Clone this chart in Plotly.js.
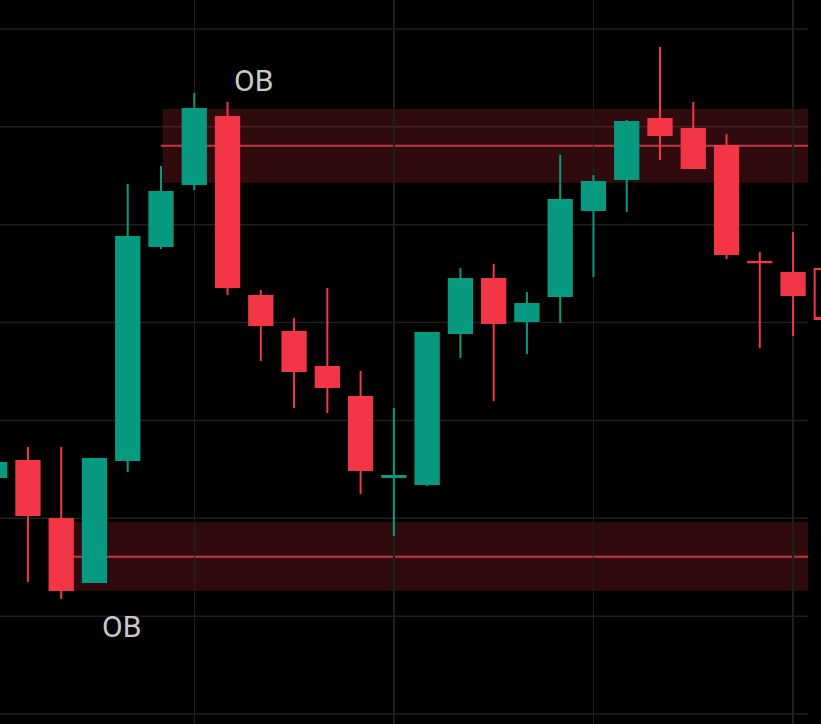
<!DOCTYPE html>
<html>
<head>
<meta charset="utf-8">
<script src="https://cdn.plot.ly/plotly-3.0.1.min.js"></script>
<style>html,body{margin:0;padding:0;background:#000;}#chart{width:821px;height:724px;}</style>
</head>
<body>
<div id="chart"></div>
<script>
// Candle index (bar number) and OHLC values
const barIndex = [0,1,2,3,4,5,6,7,8,9,10,11,12,13,14,15,16,17,18,19,20,21,22,23,24];
const openVals  = [124.22,125.85,119.93,113.49,125.96,147.82,154.16,161.01,142.72,139.04,135.46,132.39,124.22,123.50,138.93,144.45,140.16,142.72,151.50,154.67,160.80,159.78,158.04,146.19,145.07];
const highVals  = [125.65,127.28,127.28,126.06,154.16,156.00,163.46,162.54,143.33,140.47,143.53,135.05,131.27,139.04,145.58,145.99,143.12,157.12,155.08,160.70,168.16,162.54,159.27,147.21,149.26];
const lowVals   = [124.22,113.49,111.75,113.49,124.73,147.52,153.55,142.82,136.07,131.27,130.76,122.48,118.19,123.30,136.38,131.99,136.79,139.96,144.66,151.30,156.61,155.69,146.50,137.40,138.63];
const closeVals = [125.65,120.34,112.67,126.06,148.74,153.34,161.82,143.64,139.75,135.05,133.42,124.93,124.32,138.93,144.45,139.96,141.90,152.53,154.37,160.50,159.17,155.80,147.01,146.15,142.82];

// Current (unfinished, hollow) candle
const liveIndex = [25];
const liveOpen = [145.48];
const liveHigh = [145.48];
const liveLow = [140.37];
const liveClose = [140.37];

// Order-block zones: start bar, end bar, top, bottom, mid line
const obStart = [5, 2];
const obEnd = [24.45, 24.45];
const obTop = [161.82, 119.62];
const obBottom = [154.29, 112.60];
const obMid = [158.07, 116.07];

// OB labels
const obLabelX = [7.79, 3.80];
const obLabelY = [164.69, 108.99];
const obLabelText = ['OB', 'OB'];

// Horizontal price grid levels
const priceGrid = [100, 110, 120, 130, 140, 150, 160, 170];

const GREEN = '#089981';
const RED = '#f23645';
const rightEdge = 808 / 821;

const traces = [
  {
    type: 'candlestick',
    x: barIndex, open: openVals, high: highVals, low: lowVals, close: closeVals,
    increasing: {line: {color: GREEN, width: 2}, fillcolor: GREEN},
    decreasing: {line: {color: RED, width: 2}, fillcolor: RED},
    whiskerwidth: 0,
    hoverinfo: 'skip',
    showlegend: false
  },
  {
    type: 'candlestick',
    x: liveIndex, open: liveOpen, high: liveHigh, low: liveLow, close: liveClose,
    increasing: {line: {color: RED, width: 2}, fillcolor: '#000000'},
    decreasing: {line: {color: RED, width: 2}, fillcolor: '#000000'},
    whiskerwidth: 0,
    hoverinfo: 'skip',
    showlegend: false
  }
];

const shapes = [];
priceGrid.forEach(v => shapes.push({
  type: 'line', layer: 'below', xref: 'paper', yref: 'y',
  x0: 0, x1: rightEdge, y0: v, y1: v,
  line: {color: '#1f1f1f', width: 1.5}
}));
obStart.forEach((s, i) => {
  shapes.push({
    type: 'rect', layer: 'below', xref: 'x', yref: 'y',
    x0: s + 0.05, x1: obEnd[i], y0: obBottom[i], y1: obTop[i],
    fillcolor: 'rgba(242,54,69,0.2)', line: {width: 0}
  });
  shapes.push({
    type: 'line', layer: 'below', xref: 'x', yref: 'y',
    x0: s, x1: obEnd[i], y0: obMid[i], y1: obMid[i],
    line: {color: '#c03843', width: 2}
  });
});

const annotations = obLabelText.map((t, i) => ({
  x: obLabelX[i], y: obLabelY[i], xref: 'x', yref: 'y',
  text: t, showarrow: false,
  font: {family: 'Roboto, sans-serif', size: 30, color: '#c8c8c8'},
  xanchor: 'center', yanchor: 'middle'
}));

const layout = {
  width: 821, height: 724,
  margin: {l: 0, r: 0, t: 0, b: 0, pad: 0},
  paper_bgcolor: '#000000',
  plot_bgcolor: '#000000',
  showlegend: false,
  boxgap: 0,
  hovermode: false,
  xaxis: {
    type: 'linear',
    range: [0.16, 24.84],
    tick0: 0, dtick: 6,
    showgrid: true, gridcolor: '#1f1f1f', gridwidth: 1.5,
    showticklabels: false, ticks: '', zeroline: false, showline: false,
    rangeslider: {visible: false},
    fixedrange: true
  },
  yaxis: {
    range: [98.98, 172.96],
    showgrid: false, showticklabels: false, ticks: '', zeroline: false, showline: false,
    fixedrange: true
  },
  shapes: shapes,
  annotations: annotations
};

Plotly.newPlot('chart', traces, layout, {displayModeBar: false, staticPlot: true});
</script>
</body>
</html>
